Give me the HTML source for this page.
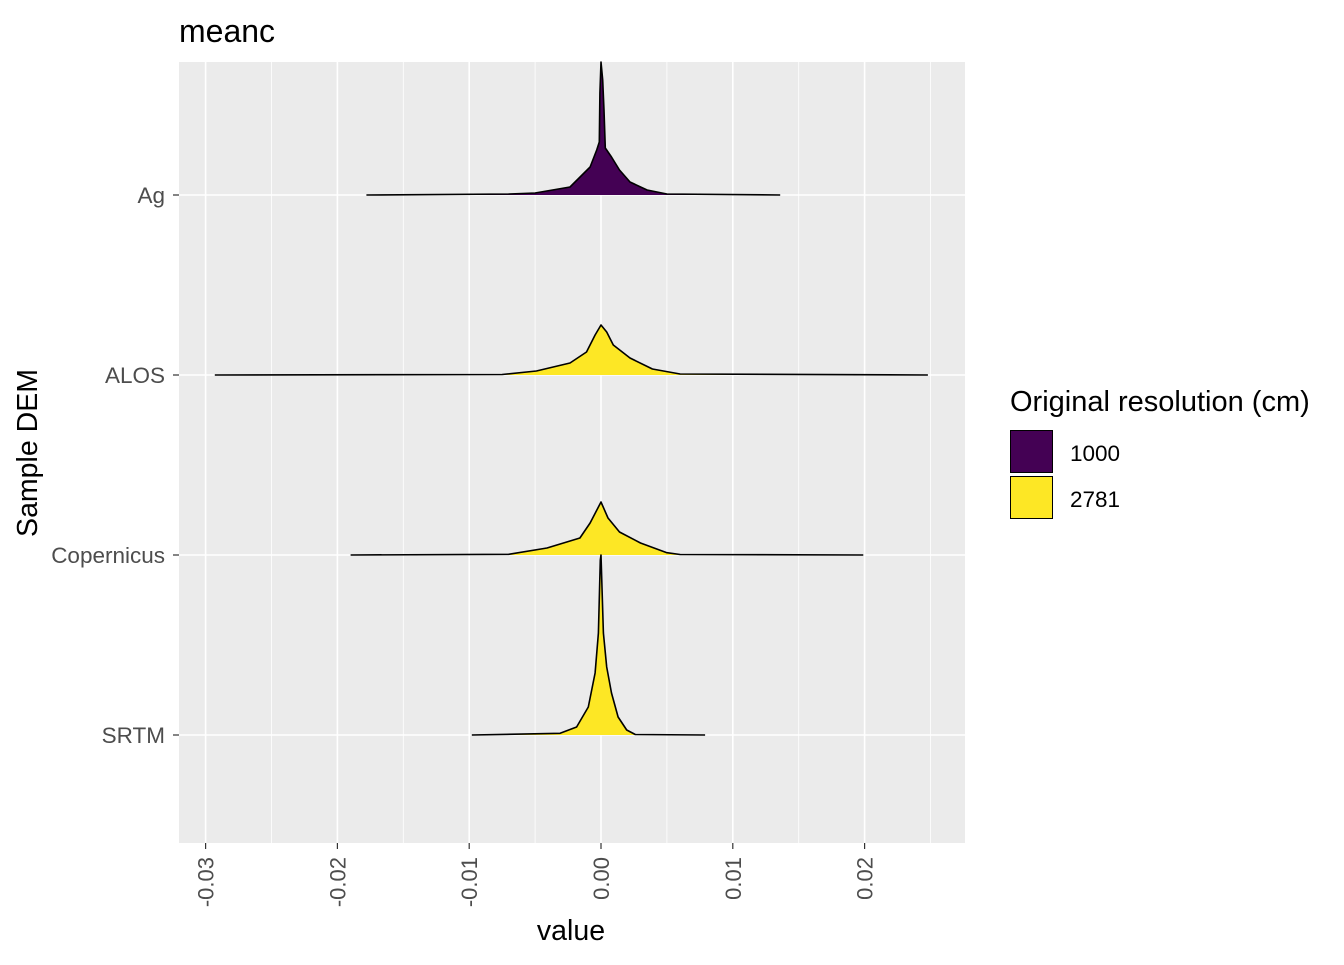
<!DOCTYPE html>
<html><head><meta charset="utf-8"><style>
html,body{margin:0;padding:0;background:#fff;}
svg text{font-family:"Liberation Sans",Arial,sans-serif;}
</style></head><body>
<svg id="chart" width="1344" height="960" viewBox="0 0 1344 960">
<rect x="0" y="0" width="1344" height="960" fill="#fff"/>
<text x="179" y="42" font-size="32" fill="#000">meanc</text>
<rect x="179" y="62" width="786" height="781" fill="#EBEBEB"/>
<g id="grid"></g>
<g id="ridges"></g>
<g id="axes"></g>
<text x="571" y="940" font-size="28.5" text-anchor="middle" fill="#000">value</text>
<text transform="translate(37,453) rotate(-90)" font-size="28.5" text-anchor="middle" fill="#000">Sample DEM</text>
<g>
<text x="1010" y="411" font-size="29" fill="#000">Original resolution (cm)</text>
<g>
<rect x="1010.5" y="430.5" width="42" height="42" fill="#440154" stroke="#000" stroke-width="1"/>
<text x="1070" y="461" font-size="22.5" fill="#000">1000</text>
</g>
<g>
<rect x="1010.5" y="476.5" width="42" height="42" fill="#FDE725" stroke="#000" stroke-width="1"/>
<text x="1070" y="507" font-size="22.5" fill="#000">2781</text>
</g>
</g>
</svg>
<script>
const categories = ["Ag","ALOS","Copernicus","SRTM"];
const fills = ["#440154","#FDE725","#FDE725","#FDE725"];
const xTicks = [-0.03,-0.02,-0.01,0.00,0.01,0.02];
const xTickLabels = ["-0.03","-0.02","-0.01","0.00","0.01","0.02"];
const agX = [-0.0178,-0.007,-0.005,-0.00235,-0.00083,-0.00033,-0.00013,-0.00008,0,0.00013,0.00023,0.00033,0.0008,0.0014,0.0022,0.0035,0.005,0.0136];
const agD = [0,0.01,0.02,0.08,0.28,0.45,0.53,1.02,1.33,1.15,0.85,0.47,0.38,0.25,0.13,0.05,0.01,0];
const alosX = [-0.0293,-0.0075,-0.0049,-0.00235,-0.0011,-0.00045,0,0.00043,0.00093,0.0022,0.0039,0.006,0.0248];
const alosD = [0,0.005,0.04,0.12,0.23,0.40,0.50,0.43,0.30,0.17,0.06,0.01,0];
const copX = [-0.019,-0.007,-0.0041,-0.0016,-0.00083,0,0.00053,0.0014,0.003,0.005,0.006,0.0199];
const copD = [0,0.007,0.07,0.17,0.32,0.53,0.37,0.23,0.12,0.023,0.005,0];
const srtmX = [-0.0098,-0.0031,-0.00185,-0.00096,-0.00045,-0.0002,-0.00005,0,0.00018,0.00043,0.0008,0.0013,0.00195,0.0026,0.0079];
const srtmD = [0,0.017,0.08,0.28,0.62,1.02,1.75,1.80,1.02,0.68,0.42,0.18,0.05,0.005,0];
const seriesX = [agX,alosX,copX,srtmX];
const seriesD = [agD,alosD,copD,srtmD];

const NS="http://www.w3.org/2000/svg";
const X0=179,X1=965,Y0=62,Y1=843;
function xs(v){return 601+v*13180;}
function ys(i){return 195+i*180;}
function dens(d){return d*100;}
function mk(tag,attrs,parent){const e=document.createElementNS(NS,tag);for(const k in attrs)e.setAttribute(k,attrs[k]);parent.appendChild(e);return e;}
const grid=document.getElementById('grid'),ridges=document.getElementById('ridges'),axes=document.getElementById('axes');
for(let i=0;i<xTicks.length;i++){
  const m=xTicks[i]+0.005, px=xs(m);
  if(px>X0&&px<X1){const l=mk('line',{x1:px,x2:px,y1:Y0,y2:Y1,stroke:'#fff','stroke-width':0.8},grid);
  
  }
}
xTicks.forEach((t,i)=>{const px=xs(t);
  const l=mk('line',{x1:px,x2:px,y1:Y0,y2:Y1,stroke:'#fff','stroke-width':1.6},grid);
  
  
  const tk=mk('line',{x1:px,x2:px,y1:Y1,y2:Y1+6,stroke:'#333','stroke-width':1.2},axes);
  
  
  const tx=mk('text',{transform:`translate(${px+8},857) rotate(-90)`,'font-size':22,'text-anchor':'end',fill:'#4d4d4d'},axes);
  tx.textContent=xTickLabels[i];
  
  
});
categories.forEach((c,i)=>{const py=ys(i);
  const l=mk('line',{x1:X0,x2:X1,y1:py,y2:py,stroke:'#fff','stroke-width':1.6},grid);
  
  
  const tk=mk('line',{x1:X0-6,x2:X0,y1:py,y2:py,stroke:'#333','stroke-width':1.2},axes);
  
  
  const tx=mk('text',{x:165,y:py+8,'font-size':22.5,'text-anchor':'end',fill:'#4d4d4d'},axes);
  tx.textContent=c;
  
  
});
categories.forEach((c,i)=>{
  const X=seriesX[i],D=seriesD[i],b=ys(i);
  let pts=X.map((v,j)=>`${xs(v).toFixed(1)},${(b-dens(D[j])).toFixed(1)}`);
  const area=mk('path',{d:`M${xs(X[0])},${b} L${pts.join(' L')} L${xs(X[X.length-1])},${b} Z`,fill:fills[i],stroke:'none'},ridges);
  
  
  const line=mk('path',{d:`M${pts.join(' L')}`,fill:'none',stroke:'#000','stroke-width':1.6,'stroke-linejoin':'round'},ridges);
  
  
});
</script>
</body></html>
